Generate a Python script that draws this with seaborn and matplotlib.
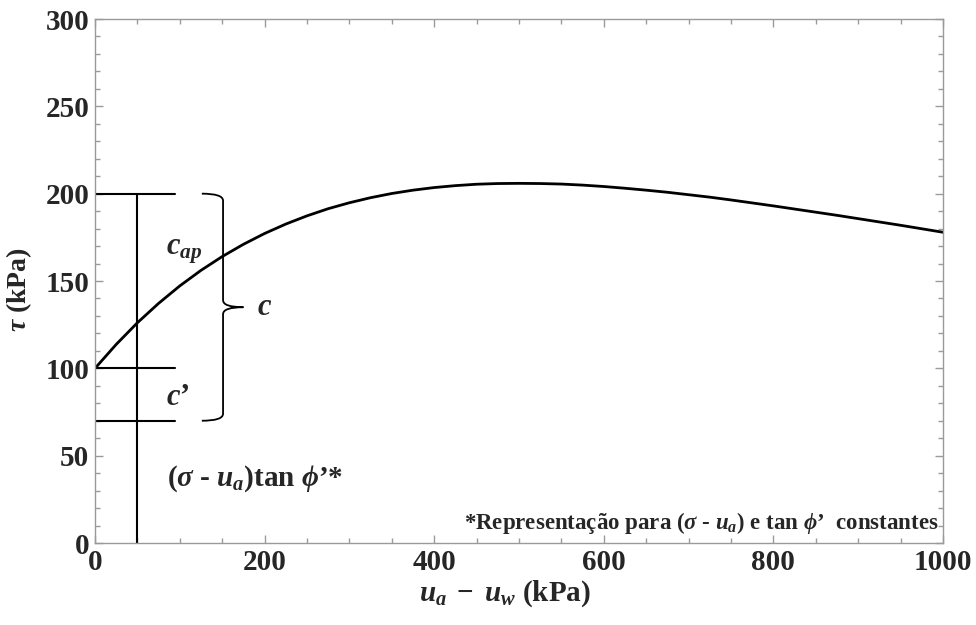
import matplotlib
matplotlib.use("Agg")
import matplotlib.pyplot as plt
from matplotlib.path import Path
from matplotlib.patches import PathPatch
from matplotlib.ticker import MultipleLocator
import numpy as np
import pandas as pd
import seaborn as sns

# Suction (kPa) and shear strength (kPa) along the curve
suction = [0, 25, 50, 75, 100, 125, 150, 175, 200, 225, 250, 275, 300, 325,
           350, 375, 400, 425, 450, 475, 500, 525, 550, 575, 600, 625, 650,
           675, 700, 725, 750, 775, 800, 825, 850, 875, 900, 925, 950, 975, 1000]
tau = [100.0, 113.7, 126.1, 137.2, 147.2, 156.1, 164.0, 171.0, 177.2, 182.6,
       187.3, 191.4, 194.8, 197.7, 200.1, 202.0, 203.5, 204.6, 205.4, 205.8,
       205.9, 205.8, 205.5, 204.9, 204.1, 203.1, 202.0, 200.8, 199.4, 198.0,
       196.4, 194.7, 193.0, 191.2, 189.4, 187.6, 185.7, 183.8, 181.9, 179.9,
       177.9]

# Strength components
c_total = 200.0      # c
c_eff = 100.0        # c'
normal_part = 70.0   # (sigma - u_a) tan phi'
ref_suction = 50.0   # vertical reference line
bar_len = 94.0

x_ticks = [0, 200, 400, 600, 800, 1000]
y_ticks = [0, 50, 100, 150, 200, 250, 300]

sns.set_theme(style="white")
plt.rcParams["font.family"] = ["Liberation Serif", "DejaVu Serif"]
plt.rcParams["font.weight"] = "bold"
plt.rcParams["mathtext.fontset"] = "custom"
plt.rcParams["mathtext.rm"] = "Liberation Serif:bold"
plt.rcParams["mathtext.it"] = "Liberation Serif:italic:bold"
plt.rcParams["mathtext.bf"] = "Liberation Serif:bold"

fig = plt.figure(figsize=(9.76, 6.25), dpi=100)
ax = fig.add_axes([95 / 976, 1 - 543 / 625, 848 / 976, 524 / 625])

df = pd.DataFrame({"suction": suction, "tau": tau})
sns.lineplot(data=df, x="suction", y="tau", ax=ax, color="black", lw=2.0)

# Reference lines
ax.plot([ref_suction, ref_suction], [0, c_total], color="black", lw=1.5)
for yv in (c_total, c_eff, normal_part):
    ax.plot([0, bar_len], [yv, yv], color="black", lw=1.5)

# Curly brace spanning c = c' + c_ap + (sigma - u_a) tan phi'
xa, xb, xt = 126.0, 151.0, 175.0
ytop, ybot = c_total, normal_part
ymid = (ytop + ybot) / 2
r = 4.0
verts = [(xa, ytop), (xb, ytop), (xb, ytop - r),
         (xb, ymid + r),
         (xb, ymid), (xt, ymid),
         (xb, ymid), (xb, ymid - r),
         (xb, ybot + r),
         (xb, ybot), (xa, ybot)]
codes = [Path.MOVETO, Path.CURVE3, Path.CURVE3,
         Path.LINETO,
         Path.CURVE3, Path.CURVE3,
         Path.CURVE3, Path.CURVE3,
         Path.LINETO,
         Path.CURVE3, Path.CURVE3]
ax.add_patch(PathPatch(Path(verts, codes), fill=False, ec="black", lw=1.3))

# Annotations
ax.text(84, 165, r"$c_{ap}$", fontsize=22, ha="left", va="baseline")
ax.text(84, 79, r"$c$’", fontsize=22, ha="left", va="baseline")
ax.text(191, 135, r"$c$", fontsize=22, ha="left", va="center")
ax.text(85, 33, r"$(\sigma$ - $u_a)$tan $\phi$’*", fontsize=21,
        ha="left", va="baseline")
ax.text(995, 8, r"*Representação para $(\sigma$ - $u_a)$ e tan $\phi$’  constantes",
        fontsize=16.5, ha="right", va="baseline")

ax.set_xlim(0, 1000)
ax.set_ylim(0, 300)
ax.set_xticks(x_ticks)
ax.set_yticks(y_ticks)
ax.xaxis.set_minor_locator(MultipleLocator(50))
ax.yaxis.set_minor_locator(MultipleLocator(10))
ax.tick_params(which="both", direction="in", top=True, right=True,
               bottom=True, left=True, color="#9a9a9a", width=1.0)
ax.tick_params(which="major", length=6, labelsize=21, pad=4)
ax.tick_params(which="minor", length=3.5)
for lab in ax.get_xticklabels() + ax.get_yticklabels():
    lab.set_fontweight("bold")
for sp in ax.spines.values():
    sp.set_color("#9a9a9a")
    sp.set_linewidth(1.0)

ax.set_xlabel(r"$u_a\;-\;u_w$ (kPa)", fontsize=21, fontweight="bold")
ax.set_ylabel(r"$\tau$ (kPa)", fontsize=20, fontweight="bold")
ax.xaxis.set_label_coords(0.483, -0.067)
ax.yaxis.set_label_coords(-0.072, 0.483)
ax.grid(False)

fig.savefig("out.png", dpi=100, facecolor="white")
